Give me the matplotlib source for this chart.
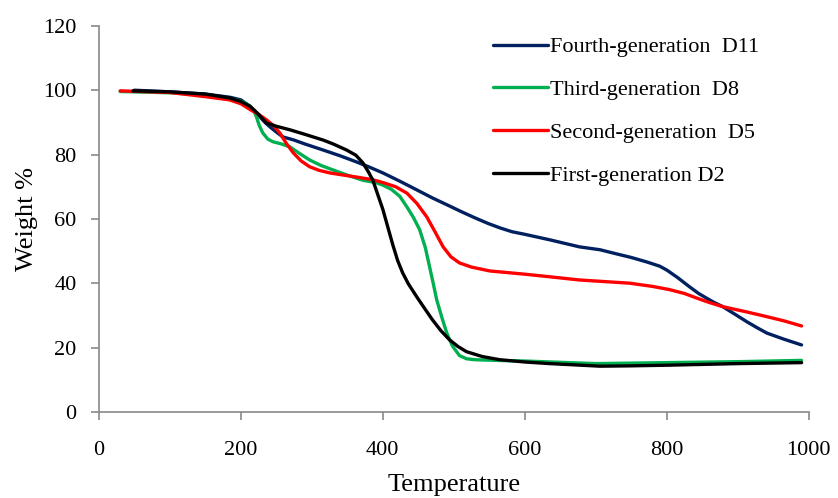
import numpy as np
import matplotlib
matplotlib.use("Agg")
import matplotlib.pyplot as plt

plt.rcParams['font.family'] = ['Liberation Serif', 'DejaVu Serif']

# --- data (temperature, weight %) ---
d11_t = [50, 100, 150, 185, 200, 213, 220, 227, 234, 241, 250, 259, 275, 290, 316,
         340, 363, 380, 400, 425, 448, 470, 494, 512, 530, 548, 565, 582, 600, 635,
         677, 706, 724, 750, 772, 790, 800, 815, 832, 845, 855, 866, 879, 895, 913,
         927, 941, 965, 990]
d11_w = [100, 99.5, 98.8, 97.8, 97, 95, 93.5, 91.7, 90, 88.6, 87, 85.5, 84.5, 83.3,
         81.4, 79.6, 77.7, 76.2, 74.3, 71.6, 69, 66.5, 64, 62.1, 60.3, 58.6, 57.2, 56,
         55.2, 53.5, 51.3, 50.4, 49.4, 48, 46.6, 45.3, 44.1, 41.8, 38.9, 36.8, 35.5,
         34.1, 32.7, 30.5, 28, 26.2, 24.5, 22.6, 20.8]

d8_t = [30, 100, 150, 194, 205, 213, 218, 222, 226, 231, 238, 245, 257, 269, 283,
        297, 313, 330, 350, 372, 390, 400, 412, 424, 434, 443, 452, 460, 466, 471,
        476, 483, 490, 498, 508, 518, 530, 560, 600, 650, 700, 800, 900, 990]
d8_w = [99.6, 99.2, 98.5, 97, 96.2, 95, 93.8, 91.7, 89, 86.7, 84.8, 84, 83.3, 82.4,
        80.3, 78.3, 76.6, 75.2, 73.6, 72, 71.3, 70.5, 69.2, 67, 63.7, 60.5, 56.6, 51,
        45, 40, 34.8, 29.5, 24.6, 20.5, 17.5, 16.5, 16.2, 16, 15.8, 15.4, 15, 15.3,
        15.6, 16]

d5_t = [30, 100, 150, 184, 200, 213, 225, 236, 246, 255, 264, 274, 285, 297, 310,
        325, 345, 363, 385, 400, 418, 434, 448, 462, 474, 485, 496, 508, 525, 551,
        600, 635, 677, 748, 780, 804, 825, 842, 860, 879, 910, 941, 965, 990]
d5_w = [99.8, 99.3, 98, 97, 95.8, 94, 92.5, 90.8, 89, 86.7, 83.5, 80.5, 78, 76.2,
        75.1, 74.3, 73.6, 73, 72.2, 71.3, 70, 68, 64.8, 60.6, 55.8, 51.3, 48.2, 46.3,
        45, 43.8, 42.8, 42, 41, 40, 39, 38, 36.8, 35.4, 34, 32.7, 31.2, 29.6, 28.3,
        26.7]

d2_t = [48, 100, 150, 184, 200, 213, 225, 236, 250, 269, 290, 316, 330, 349, 362,
        372, 380, 386, 393, 400, 407, 414, 421, 428, 436, 448, 460, 470, 482, 494,
        506, 518, 540, 565, 600, 635, 706, 748, 800, 900, 990]
d2_w = [99.8, 99.5, 98.8, 97.6, 96.5, 95, 92.5, 89.8, 88.8, 87.7, 86.3, 84.5, 83.3,
        81.4, 79.8, 77.4, 74.5, 72, 67.5, 63, 57.5, 52, 47, 43.2, 39.8, 35.7, 31.8,
        28.6, 25.2, 22.4, 20.3, 18.7, 17.2, 16.2, 15.5, 15, 14.2, 14.3, 14.5, 15, 15.3]

labels = ['Fourth-generation  D11', 'Third-generation  D8',
          'Second-generation  D5', 'First-generation D2']
colors = ['#002060', '#00B050', '#FF0000', '#000000']

fig = plt.figure(figsize=(8.38, 4.98), dpi=100)
ax = fig.add_axes([0.118, 0.173, 0.847, 0.775])

series = [(d11_t, d11_w), (d8_t, d8_w), (d5_t, d5_w), (d2_t, d2_w)]
for (t, w), lab, c in zip(series, labels, colors):
    ax.plot(t, w, color=c, lw=2.4, label=lab, solid_capstyle='round',
            solid_joinstyle='round')

ax.set_xlim(0, 1000)
ax.set_ylim(0, 120)
ax.set_xticks(np.arange(0, 1001, 200))
ax.set_yticks(np.arange(0, 121, 20))

for s in ['top', 'right']:
    ax.spines[s].set_visible(False)
for s in ['left', 'bottom']:
    ax.spines[s].set_color('#898989')
    ax.spines[s].set_linewidth(1.2)
ax.tick_params(axis='both', colors='#898989', labelcolor='black', labelsize=16,
               length=6, width=1.2, direction='out')
ax.tick_params(axis='x', pad=15)
ax.tick_params(axis='y', pad=10)

ax.set_xlabel('Temperature', fontsize=19, labelpad=10)
ax.set_ylabel('Weight %', fontsize=19, labelpad=4)

ax.legend(loc='upper left', bbox_to_anchor=(0.564, 0.966), bbox_transform=fig.transFigure,
          frameon=False, fontsize=16, handlelength=2.5, handletextpad=0.1,
          labelspacing=1.0)

fig.savefig('out.png', dpi=100)
